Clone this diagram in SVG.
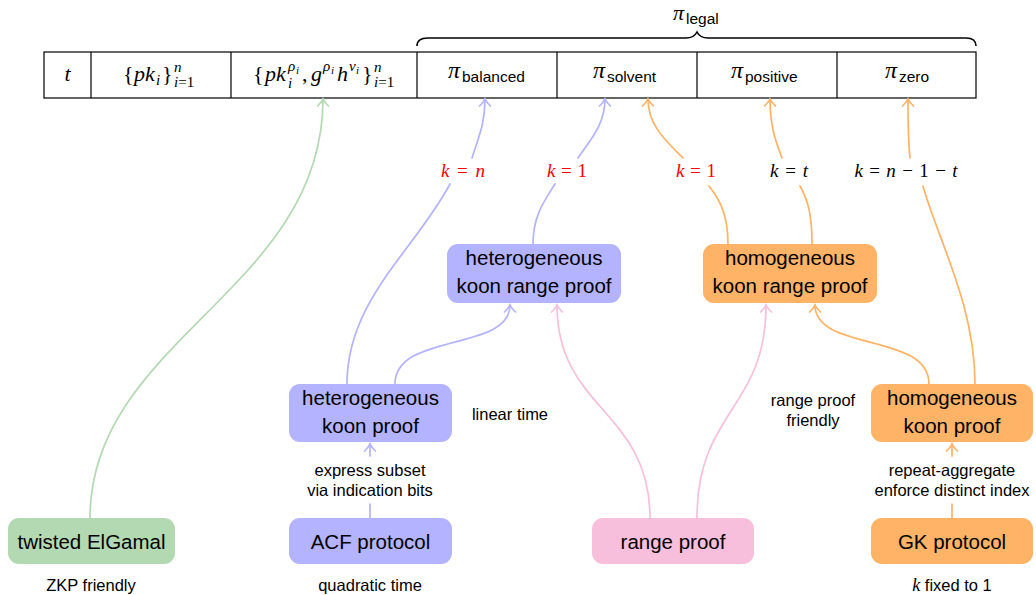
<svg xmlns="http://www.w3.org/2000/svg" width="1036" height="595" viewBox="0 0 1036 595">
  <style>
    .sans { font-family: "Liberation Sans", Arial, sans-serif; fill: #000; }
    .node { font-size: 20.5px; text-anchor: middle; }
    .note { font-size: 16.5px; text-anchor: middle; }
    .sub { font-size: 15.5px; }
    .m { font-family: "Liberation Serif", "Times New Roman", serif; font-size: 22px; fill: #000; }
    .mi { font-family: "Liberation Serif", "Times New Roman", serif; font-style: italic; font-size: 22px; fill: #000; }
    .pi { font-size: 24px; }
    .s1 { font-size: 15px; }
    .s2 { font-size: 11px; }
    .klab { font-family: "Liberation Serif", "Times New Roman", serif; font-size: 19px; text-anchor: middle; }
    .red { fill: #ff0000; }
    .cell { fill: none; stroke: #000; stroke-width: 1.2; }
    .c { fill: none; stroke-width: 1.7; stroke-linecap: round; }
    .blue { stroke: #b3b3ff; }
    .orange { stroke: #ffb366; }
    .green { stroke: #b3d9b3; }
    .pink { stroke: #f7bfdb; }
  </style>
  <defs>
    <marker id="ah-blue" markerUnits="userSpaceOnUse" orient="auto" overflow="visible" markerWidth="14" markerHeight="14" refX="0" refY="0">
      <path d="M-7,-5.5 C-4,-2.5 -1.5,-0.6 0,0 C-1.5,0.6 -4,2.5 -7,5.5" fill="none" stroke="#b3b3ff" stroke-width="1.7" stroke-linecap="round"/>
    </marker>
    <marker id="ah-orange" markerUnits="userSpaceOnUse" orient="auto" overflow="visible" markerWidth="14" markerHeight="14" refX="0" refY="0">
      <path d="M-7,-5.5 C-4,-2.5 -1.5,-0.6 0,0 C-1.5,0.6 -4,2.5 -7,5.5" fill="none" stroke="#ffb366" stroke-width="1.7" stroke-linecap="round"/>
    </marker>
    <marker id="ah-green" markerUnits="userSpaceOnUse" orient="auto" overflow="visible" markerWidth="14" markerHeight="14" refX="0" refY="0">
      <path d="M-7,-5.5 C-4,-2.5 -1.5,-0.6 0,0 C-1.5,0.6 -4,2.5 -7,5.5" fill="none" stroke="#b3d9b3" stroke-width="1.7" stroke-linecap="round"/>
    </marker>
    <marker id="ah-pink" markerUnits="userSpaceOnUse" orient="auto" overflow="visible" markerWidth="14" markerHeight="14" refX="0" refY="0">
      <path d="M-7,-5.5 C-4,-2.5 -1.5,-0.6 0,0 C-1.5,0.6 -4,2.5 -7,5.5" fill="none" stroke="#f7bfdb" stroke-width="1.7" stroke-linecap="round"/>
    </marker>
  </defs>

  <!-- proof record: one row of cells -->
  <g id="record">
    <rect class="cell" x="44" y="52" width="932" height="46"/>
    <line class="cell" x1="91" y1="52" x2="91" y2="98"/>
    <line class="cell" x1="231" y1="52" x2="231" y2="98"/>
    <line class="cell" x1="417" y1="52" x2="417" y2="98"/>
    <line class="cell" x1="557" y1="52" x2="557" y2="98"/>
    <line class="cell" x1="697" y1="52" x2="697" y2="98"/>
    <line class="cell" x1="837" y1="52" x2="837" y2="98"/>

    <!-- t -->
    <text class="mi" x="67.5" y="81" text-anchor="middle">t</text>

    <!-- {pk_i}^n_{i=1} -->
    <text class="m" x="123" y="81">{</text>
    <text class="mi" x="134" y="81">pk</text>
    <text class="mi s1" x="156" y="85">i</text>
    <text class="m" x="162" y="81">}</text>
    <text class="mi s1" x="174" y="72">n</text>
    <text class="mi s1" x="174" y="87">i<tspan font-style="normal">=1</tspan></text>

    <!-- {pk_i^{rho_i}, g^{rho_i} h^{v_i}}^n_{i=1} -->
    <text class="m" x="253" y="81">{</text>
    <text class="mi" x="265" y="81">pk</text>
    <text class="mi s1" x="288" y="71">ρ</text>
    <text class="mi s2" x="296" y="74">i</text>
    <text class="mi s1" x="288" y="88">i</text>
    <text class="m" x="302" y="81">,</text>
    <text class="mi" x="311" y="81">g</text>
    <text class="mi s1" x="323" y="71">ρ</text>
    <text class="mi s2" x="331" y="74">i</text>
    <text class="mi" x="337" y="81">h</text>
    <text class="mi s1" x="349" y="71">v</text>
    <text class="mi s2" x="356" y="74">i</text>
    <text class="m" x="362" y="81">}</text>
    <text class="mi s1" x="374" y="72">n</text>
    <text class="mi s1" x="374" y="87">i<tspan font-style="normal">=1</tspan></text>

    <!-- proof cells -->
    <text class="mi pi" x="448" y="78">π</text>
    <text class="sans sub" x="462" y="82">balanced</text>
    <text class="mi pi" x="593" y="78">π</text>
    <text class="sans sub" x="607" y="82">solvent</text>
    <text class="mi pi" x="731" y="78">π</text>
    <text class="sans sub" x="745" y="82">positive</text>
    <text class="mi pi" x="885" y="78">π</text>
    <text class="sans sub" x="899" y="82">zero</text>
  </g>

  <!-- brace over the four proof cells -->
  <g id="legal">
    <path d="M417,46 Q417,38 428,38 L686,38 Q694,38 697,32 Q700,38 708,38 L966,38 Q976,38 976,46" fill="none" stroke="#000" stroke-width="1.6"/>
    <text class="mi" x="673" y="20">π</text>
    <text class="sans sub" x="686" y="24">legal</text>
  </g>

  <!-- connectors -->
  <g id="connectors">
    <!-- twisted ElGamal -> ciphertext cell -->
    <path class="c green" d="M90,518 C90,340 323,290 323,99" marker-end="url(#ah-green)"/>

    <!-- heterogeneous koon proof -> pi_balanced (k = n) -->
    <path class="c blue" d="M347,384 C347,300 415,250 450,184"/>
    <path class="c blue" d="M472,158 C478,138 485,125 485,99" marker-end="url(#ah-blue)"/>

    <!-- heterogeneous koon proof -> heterogeneous koon range proof -->
    <path class="c blue" d="M395,384 C395,332 510,352 510,305" marker-end="url(#ah-blue)"/>

    <!-- ACF protocol -> heterogeneous koon proof -->
    <path class="c blue" d="M370,518 L370,504"/>
    <path class="c blue" d="M370,456 L370,444" marker-end="url(#ah-blue)"/>

    <!-- heterogeneous koon range proof -> pi_solvent (k = 1) -->
    <path class="c blue" d="M533,244 C533,215 545,200 555,184"/>
    <path class="c blue" d="M578,158 C590,140 605,125 605,99" marker-end="url(#ah-blue)"/>

    <!-- homogeneous koon range proof -> pi_solvent (k = 1) -->
    <path class="c orange" d="M728,244 C728,215 720,200 709,186"/>
    <path class="c orange" d="M683,158 C665,140 648,125 648,99" marker-end="url(#ah-orange)"/>

    <!-- homogeneous koon range proof -> pi_positive (k = t) -->
    <path class="c orange" d="M812,244 C812,215 808,200 800,186"/>
    <path class="c orange" d="M782,158 C775,140 770,125 770,99" marker-end="url(#ah-orange)"/>

    <!-- homogeneous koon proof -> pi_zero (k = n-1-t) -->
    <path class="c orange" d="M975,384 C975,305 938,240 923,186"/>
    <path class="c orange" d="M910,158 C908,140 908,125 908,99" marker-end="url(#ah-orange)"/>

    <!-- homogeneous koon proof -> homogeneous koon range proof -->
    <path class="c orange" d="M929,384 C929,332 815,352 815,305" marker-end="url(#ah-orange)"/>

    <!-- GK protocol -> homogeneous koon proof -->
    <path class="c orange" d="M952,518 L952,504"/>
    <path class="c orange" d="M952,456 L952,444" marker-end="url(#ah-orange)"/>

    <!-- range proof -> both koon range proofs -->
    <path class="c pink" d="M650,518 C650,410 557,410 557,305" marker-end="url(#ah-pink)"/>
    <path class="c pink" d="M697,518 C697,410 766,410 766,305" marker-end="url(#ah-pink)"/>

    <!-- edge labels -->
    <text class="klab red" x="463" y="177" textLength="44" lengthAdjust="spacing"><tspan font-style="italic">k</tspan> = <tspan font-style="italic">n</tspan></text>
    <text class="klab red" x="567" y="177" textLength="40" lengthAdjust="spacing"><tspan font-style="italic">k</tspan> = 1</text>
    <text class="klab red" x="696" y="177" textLength="40" lengthAdjust="spacing"><tspan font-style="italic">k</tspan> = 1</text>
    <text class="klab" x="789" y="177" textLength="38" lengthAdjust="spacing"><tspan font-style="italic">k</tspan> = <tspan font-style="italic">t</tspan></text>
    <text class="klab" x="906" y="177" textLength="103" lengthAdjust="spacing"><tspan font-style="italic">k</tspan> = <tspan font-style="italic">n</tspan> − 1 − <tspan font-style="italic">t</tspan></text>

    <text class="sans note" x="370" y="476">express subset</text>
    <text class="sans note" x="370" y="496">via indication bits</text>
    <text class="sans note" x="952" y="476">repeat-aggregate</text>
    <text class="sans note" x="952" y="496">enforce distinct index</text>
  </g>

  <!-- nodes -->
  <g id="twisted-elgamal">
    <rect x="8" y="518" width="167" height="46" rx="11" fill="#b3d9b3"/>
    <text class="sans node" x="91.5" y="549">twisted ElGamal</text>
    <text class="sans note" x="91" y="591">ZKP friendly</text>
  </g>

  <g id="acf-protocol">
    <rect x="289" y="518" width="163" height="46" rx="11" fill="#b3b3ff"/>
    <text class="sans node" x="370.5" y="549">ACF protocol</text>
    <text class="sans note" x="370" y="591">quadratic time</text>
  </g>

  <g id="range-proof">
    <rect x="592" y="518" width="162" height="46" rx="11" fill="#f7bfdb"/>
    <text class="sans node" x="673" y="549">range proof</text>
  </g>

  <g id="gk-protocol">
    <rect x="871" y="518" width="162" height="46" rx="11" fill="#ffb366"/>
    <text class="sans node" x="952" y="549">GK protocol</text>
    <text class="note" x="952" y="591"><tspan font-family="Liberation Serif, serif" font-style="italic" font-size="18">k</tspan><tspan font-family="Liberation Sans, Arial, sans-serif"> fixed to 1</tspan></text>
  </g>

  <g id="hetero-koon-proof">
    <rect x="289" y="384" width="163" height="58" rx="11" fill="#b3b3ff"/>
    <text class="sans node" x="370.5" y="405">heterogeneous</text>
    <text class="sans node" x="370.5" y="433">koon proof</text>
    <text class="sans note" x="510" y="420">linear time</text>
  </g>

  <g id="hetero-koon-range-proof">
    <rect x="447" y="244" width="174" height="59" rx="11" fill="#b3b3ff"/>
    <text class="sans node" x="534" y="265">heterogeneous</text>
    <text class="sans node" x="534" y="293">koon range proof</text>
  </g>

  <g id="homo-koon-range-proof">
    <rect x="703" y="244" width="174" height="59" rx="11" fill="#ffb366"/>
    <text class="sans node" x="790" y="265">homogeneous</text>
    <text class="sans node" x="790" y="293">koon range proof</text>
    <text class="sans note" x="813" y="406">range proof</text>
    <text class="sans note" x="813" y="426">friendly</text>
  </g>

  <g id="homo-koon-proof">
    <rect x="871" y="384" width="162" height="58" rx="11" fill="#ffb366"/>
    <text class="sans node" x="952" y="405">homogeneous</text>
    <text class="sans node" x="952" y="433">koon proof</text>
  </g>
</svg>
